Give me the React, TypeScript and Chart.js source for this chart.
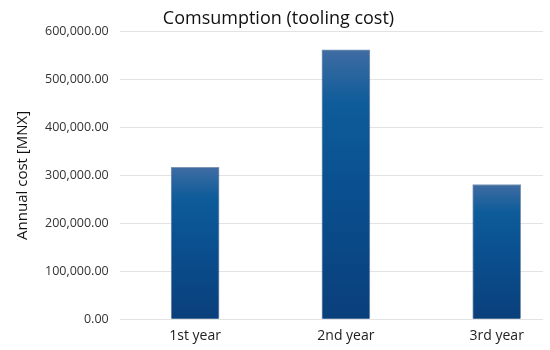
import { useEffect, useRef } from "react";
import { Chart, registerables } from "chart.js";

Chart.register(...registerables);

const categories = ["1st year", "2nd year", "3rd year"];
const values = [317000, 562000, 281000];
const yMin = 0;
const yMax = 600000;
const yStep = 100000;
const xMin = -0.5;
const xMax = 2.307;

const FONT = "'Open Sans', 'DejaVu Sans', sans-serif";

export default function App() {
  const ref = useRef<HTMLCanvasElement>(null);

  useEffect(() => {
    const canvas = ref.current;
    if (!canvas) return;
    const chart = new Chart(canvas, {
      type: "bar",
      data: {
        datasets: [
          {
            label: "Annual cost",
            data: values.map((v, i) => ({ x: i, y: v })),
            barThickness: 48,
            borderWidth: 1,
            borderColor: "rgba(40,80,130,0.6)",
            backgroundColor: (ctx: any) => {
              const chart = ctx.chart;
              const { chartArea, scales } = chart;
              if (!chartArea || ctx.type !== "data" || !scales.y) return "#0a4f8f";
              const top = scales.y.getPixelForValue(ctx.parsed.y);
              const bottom = scales.y.getPixelForValue(0);
              const g = chart.ctx.createLinearGradient(0, top, 0, bottom);
              g.addColorStop(0, "#3f6ca2");
              g.addColorStop(0.2, "#0e5c9a");
              g.addColorStop(0.5, "#0a5090");
              g.addColorStop(1, "#0a3f7b");
              return g;
            },
          },
        ],
      },
      options: {
        animation: false,
        responsive: true,
        maintainAspectRatio: false,
        layout: { padding: { left: 14, right: 7, top: 8, bottom: 6 } },
        plugins: {
          legend: { display: false },
          tooltip: { enabled: false },
          title: {
            display: true,
            text: "Comsumption (tooling cost)",
            color: "#111",
            font: { family: FONT, size: 18, weight: "normal" },
            padding: { top: 0, bottom: 2 },
          },
        },
        scales: {
          x: {
            type: "linear",
            offset: false,
            min: xMin,
            max: xMax,
            grid: { display: false },
            border: { display: false },
            ticks: {
              stepSize: 1,
              includeBounds: false,
              autoSkip: false,
              maxRotation: 0,
              color: "#222",
              font: { family: FONT, size: 14 },
              padding: 0,
              callback: (v: any) =>
                Number.isInteger(v) && categories[v] !== undefined ? categories[v] : "",
            },
          },
          y: {
            min: yMin,
            max: yMax,
            grid: { color: "#e3e3e3", lineWidth: 1, drawTicks: false },
            border: { display: false },
            ticks: {
              stepSize: yStep,
              color: "#333",
              padding: 11,
              font: { family: FONT, size: 12.5 },
              callback: (v: any) =>
                Number(v).toLocaleString("en-US", {
                  minimumFractionDigits: 2,
                  maximumFractionDigits: 2,
                }),
            },
            title: {
              display: true,
              text: "Annual cost [MNX]",
              color: "#111",
              font: { family: FONT, size: 15 },
              padding: { top: 0, bottom: 2 },
            },
          },
        },
      },
    });
    return () => chart.destroy();
  }, []);

  return (
    <div style={{ position: "fixed", left: 0, top: 0, width: 550, height: 350, background: "#fff" }}>
      <canvas ref={ref} />
    </div>
  );
}
